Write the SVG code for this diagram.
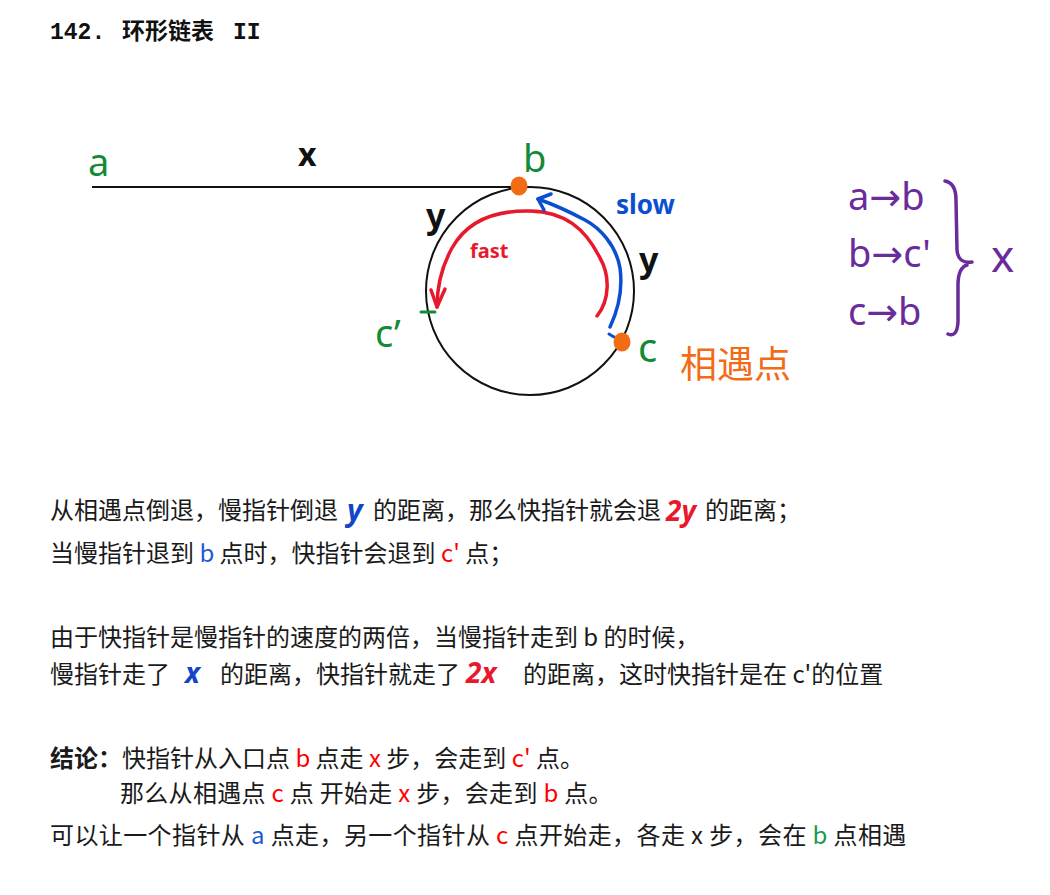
<svg xmlns="http://www.w3.org/2000/svg" width="1050" height="895" viewBox="0 0 1050 895">
<style>
.t{font-family:"Noto Sans CJK SC","Noto Sans",sans-serif;font-size:24px;fill:#1a1a1a}
.h{font-family:"Noto Sans","DejaVu Sans",sans-serif}
.hb{font-family:"Noto Sans","DejaVu Sans",sans-serif;font-weight:bold}
.g{fill:#138a36}
.p{fill:#6a2c9a;font-size:38px}
.red{fill:#ff0000}
.blue{fill:#1a5ad6}
.green{fill:#1a9a4a}
.hw{font-family:"Noto Sans","DejaVu Sans",sans-serif;font-style:italic;font-weight:bold}
.ln{fill:none;stroke-linecap:round;stroke-linejoin:round}
.mono{font-family:"Liberation Mono",monospace;font-weight:bold;font-size:23px;fill:#111}
</style>
<rect width="1050" height="895" fill="#ffffff"/>

<g id="title">
<text x="50" y="39" class="mono">142.</text>
<text x="122" y="39" style="font-family:'Noto Sans CJK SC',sans-serif;font-weight:bold;font-size:23px" fill="#111">环形链表</text>
<text x="233" y="39" class="mono">II</text>
</g>

<g id="connectors">
<line x1="92" y1="187" x2="519" y2="187" stroke="#111" stroke-width="2"/>
<circle cx="530" cy="291" r="104" fill="none" stroke="#111" stroke-width="2"/>
<path class="ln" d="M597,316 C610,300 610,275 600,258 C585,228 565,212 530,211 C490,210 465,225 452,248 C442,266 437,285 437,307" stroke="#e8192c" stroke-width="3.5"/>
<path class="ln" d="M431,290 L437,307 L445,289" stroke="#e8192c" stroke-width="3.5"/>
<path class="ln" d="M610,327 C618,310 623,290 620,268 C616,245 600,228 585,220 C570,212 555,205 538,199" stroke="#0a4fd0" stroke-width="3.5"/>
<path class="ln" d="M551,194 L538,199 L544,210" stroke="#0a4fd0" stroke-width="3.5"/>
<path class="ln" d="M609,334 L614,337" stroke="#0a4fd0" stroke-width="3"/>
<path class="ln" d="M421,312 L435,312" stroke="#138a36" stroke-width="3"/>
</g>

<g id="node-a"><text x="88" y="176" class="h g" font-size="38">a</text></g>
<g id="label-x"><text x="298" y="166" class="hb" font-size="32" fill="#111">x</text></g>
<g id="node-b">
<ellipse cx="519" cy="186" rx="8.5" ry="9.5" fill="#f26b15"/>
<text x="523" y="172" class="h g" font-size="38">b</text>
</g>
<g id="label-y1"><text x="426" y="228" class="hb" font-size="34" fill="#111">y</text></g>
<g id="label-slow"><text x="616" y="214" class="hb" font-size="26" fill="#0a4fd0">slow</text></g>
<g id="label-fast"><text x="470" y="258" class="hb" font-size="20" fill="#e8192c">fast</text></g>
<g id="label-y2"><text x="639" y="272" class="hb" font-size="34" fill="#111">y</text></g>
<g id="node-cprime"><text x="375" y="347" class="h g" font-size="38">c’</text></g>
<g id="node-c">
<ellipse cx="622" cy="342" rx="8.5" ry="9.5" fill="#f26b15"/>
<text x="638" y="362" class="h g" font-size="40">c</text>
<text x="680" y="378" style="font-family:'Noto Sans CJK SC',sans-serif;font-size:37px" fill="#f26b15">相遇点</text>
</g>

<g id="summary">
<text x="848" y="210" class="h p">a→b</text>
<text x="848" y="267" class="h p">b→c'</text>
<text x="848" y="325" class="h p">c→b</text>
<path class="ln" d="M945,181 Q956,183 956,200 L957,250 Q958,264 972,262 M967,265 Q958,268 958,285 L958,322 Q957,338 948,334" stroke="#6a2c9a" stroke-width="3.5"/>
<text x="991" y="272" class="h" font-size="44" fill="#6a2c9a">x</text>
</g>

<g id="explanation">
<text class="t" x="50" y="519">从相遇点倒退，慢指针倒退</text>
<text x="347" y="521" class="hw" font-size="30" fill="#1345c8">y</text>
<text class="t" x="373" y="519">的距离，那么快指针就会退</text>
<text x="666" y="521" class="hw" font-size="28" fill="#e8192c">2y</text>
<text class="t" x="705" y="519">的距离；</text>

<text class="t" x="50" y="562">当慢指针退到 <tspan class="blue">b</tspan> 点时，快指针会退到 <tspan class="red">c'</tspan> 点；</text>

<text class="t" x="50" y="646">由于快指针是慢指针的速度的两倍，当慢指针走到 b 的时候，</text>

<text class="t" x="50" y="683">慢指针走了</text>
<text x="185" y="683" class="hw" font-size="28" fill="#1345c8">x</text>
<text class="t" x="220" y="683">的距离，快指针就走了</text>
<text x="466" y="683" class="hw" font-size="28" fill="#e8192c">2x</text>
<text class="t" x="523" y="683">的距离，这时快指针是在 c'的位置</text>

<text class="t" x="50" y="767"><tspan font-weight="bold">结论：</tspan>快指针从入口点 <tspan class="red">b</tspan> 点走 <tspan class="red">x</tspan> 步，会走到 <tspan class="red">c'</tspan> 点。</text>
<text class="t" x="120" y="802" letter-spacing="0.3">那么从相遇点 <tspan class="red">c</tspan> 点 开始走 <tspan class="red">x</tspan> 步，会走到 <tspan class="red">b</tspan> 点。</text>
<text class="t" x="50" y="844" letter-spacing="0.4">可以让一个指针从 <tspan class="blue">a</tspan> 点走，另一个指针从 <tspan class="red">c</tspan> 点开始走，各走 x 步，会在 <tspan class="green">b</tspan> 点相遇</text>
</g>
</svg>
